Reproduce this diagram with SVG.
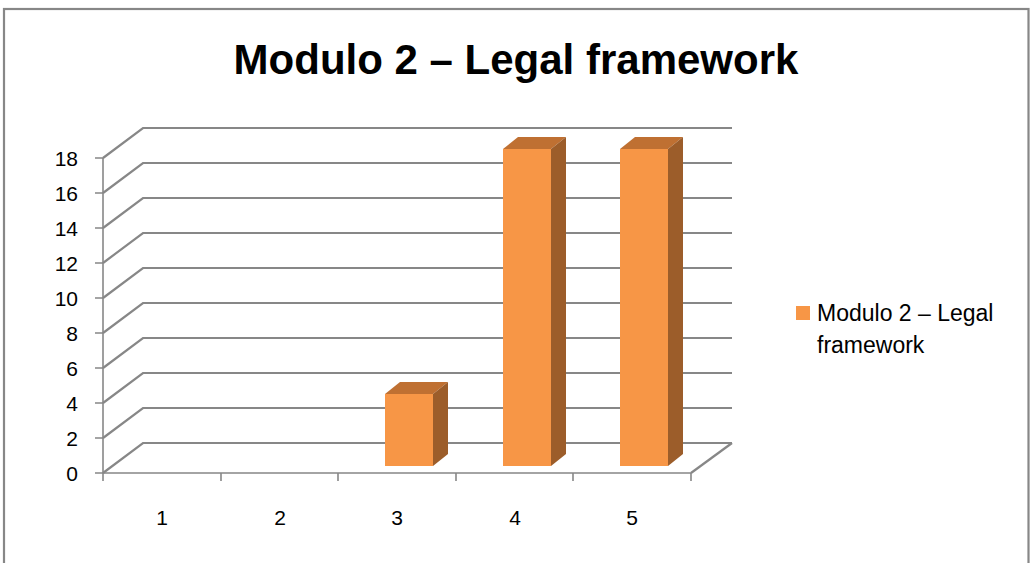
<svg xmlns="http://www.w3.org/2000/svg" width="1030" height="563" viewBox="0 0 1030 563">
<style>
.grid{stroke:#878787;stroke-width:2.2;fill:none}
.axis{stroke:#878787;stroke-width:1.6;fill:none}
.lbl{font-family:"Liberation Sans",Arial,sans-serif;font-size:21px;fill:#000}
.front{fill:#F79646}
.top{fill:#BF7032}
.side{fill:#9C5D2A}
</style>
<rect width="1030" height="563" fill="#fff"/>
<rect x="4" y="9" width="1024.5" height="570" fill="none" stroke="#878787" stroke-width="2.2"/>
<text x="516" y="74" text-anchor="middle" font-family="'Liberation Sans',Arial,sans-serif" font-weight="bold" font-size="42" fill="#000">Modulo 2 – Legal framework</text>
<g id="connectors">
<g class="grid">
<path d="M103 473 L143 443 L732 443"/>
<path d="M103 438 L143 408 L732 408"/>
<path d="M103 403 L143 373 L732 373"/>
<path d="M103 368 L143 338 L732 338"/>
<path d="M103 333 L143 303 L732 303"/>
<path d="M103 298 L143 268 L732 268"/>
<path d="M103 263 L143 233 L732 233"/>
<path d="M103 228 L143 198 L732 198"/>
<path d="M103 193 L143 163 L732 163"/>
<path d="M103 158 L143 128 L732 128"/>
<path d="M691 473 L732 443"/>
</g>
<g class="axis">
<path d="M103 158 L103 481"/>
<path d="M103 473 L691 473 L691 481"/>
<path d="M95 473H103M95 438H103M95 403H103M95 368H103M95 333H103M95 298H103M95 263H103M95 228H103M95 193H103M95 158H103"/>
<path d="M221 473V481M338 473V481M456 473V481M573 473V481"/>
</g>
</g>
<g id="ylabels" class="lbl" text-anchor="end">
<text x="78" y="481">0</text>
<text x="78" y="446">2</text>
<text x="78" y="411">4</text>
<text x="78" y="376">6</text>
<text x="78" y="341">8</text>
<text x="78" y="306">10</text>
<text x="78" y="271">12</text>
<text x="78" y="236">14</text>
<text x="78" y="201">16</text>
<text x="78" y="166">18</text>
</g>
<g id="xlabels" class="lbl" text-anchor="middle">
<text x="162" y="525">1</text>
<text x="280" y="525">2</text>
<text x="397" y="525">3</text>
<text x="515" y="525">4</text>
<text x="632" y="525">5</text>
</g>
<g id="bar3">
<rect class="front" x="385" y="394" width="48" height="72"/>
<polygon class="top" points="385,394 400,382 448,382 433,394"/>
<polygon class="side" points="433,394 448,382 448,454 433,466"/>
</g>
<g id="bar4">
<rect class="front" x="503" y="149" width="48" height="317"/>
<polygon class="top" points="503,149 518,137 566,137 551,149"/>
<polygon class="side" points="551,149 566,137 566,454 551,466"/>
</g>
<g id="bar5">
<rect class="front" x="620" y="149" width="48" height="317"/>
<polygon class="top" points="620,149 635,137 683,137 668,149"/>
<polygon class="side" points="668,149 683,137 683,454 668,466"/>
</g>
<g id="legend">
<rect class="front" x="796" y="306" width="14" height="14"/>
<text x="817" y="321" font-family="'Liberation Sans',Arial,sans-serif" font-size="23" fill="#000">Modulo 2 – Legal</text>
<text x="817" y="353" font-family="'Liberation Sans',Arial,sans-serif" font-size="23" fill="#000">framework</text>
</g>
</svg>
